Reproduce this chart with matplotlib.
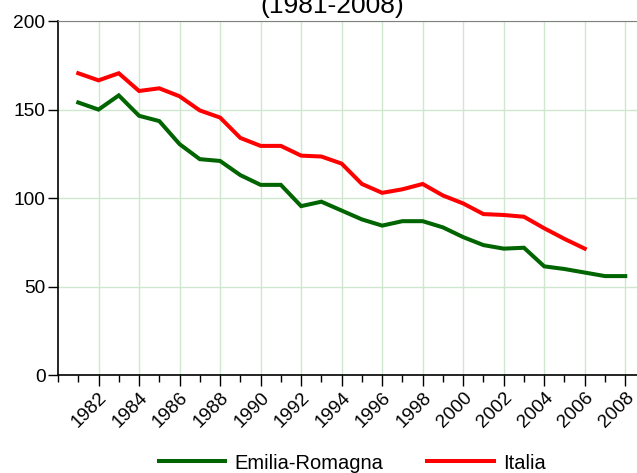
# tassi 1981-2008, Emilia-Romagna vs Italia

import matplotlib
matplotlib.use("Agg")
import matplotlib.pyplot as plt
from matplotlib.ticker import MultipleLocator

plt.rcParams['font.family'] = ['Liberation Sans', 'DejaVu Sans']

years_er = list(range(1981, 2009))
emilia_romagna = [154, 150, 158, 146.5, 143.5, 130.5, 122, 121, 113, 107.5,
                  107.5, 95.5, 98, 93, 88, 84.5, 87, 87, 83.5, 78,
                  73.5, 71.5, 72, 61.5, 60, 58, 56, 56]

years_it = list(range(1981, 2007))
italia = [170.5, 166.5, 170.5, 160.5, 162, 157.5, 149.5, 145.5, 134, 129.5,
          129.5, 124, 123.5, 119.5, 108, 103, 105, 108, 101.5, 97,
          91, 90.5, 89.5, 83, 77, 71.5]

tick_years = list(range(1982, 2009, 2))
title = "(1981-2008)"

fig = plt.figure(figsize=(6.37, 4.73), dpi=100)
ax = fig.add_axes([58 / 637, 97.7 / 473, 1 - 58 / 637, 354.3 / 473])

ax.plot(years_er, emilia_romagna, color="#006400", lw=2.9, label="Emilia-Romagna",
        solid_joinstyle="miter")
ax.plot(years_it, italia, color="#ff0000", lw=2.9, label="Italia",
        solid_joinstyle="miter")

ax.set_xlim(1980, 2008.58)
ax.set_ylim(0, 200)
ax.set_xticks(tick_years)
ax.set_xticklabels([str(y) for y in tick_years], rotation=45, ha="right",
                   rotation_mode="anchor", fontsize=13.6)
ax.xaxis.set_minor_locator(MultipleLocator(1))
ax.set_yticks([0, 50, 100, 150, 200])
ax.tick_params(axis="y", labelsize=13.8, length=7, width=1, pad=2)
ax.tick_params(axis="x", which="major", length=8, width=1, pad=2)
ax.tick_params(axis="x", which="minor", length=5, width=1)

ax.grid(True, color="#cfe6cf", lw=1)
ax.set_axisbelow(True)
ax.spines["right"].set_visible(False)
ax.spines["top"].set_color("#808080")
ax.spines["left"].set_linewidth(1.2)
ax.spines["bottom"].set_linewidth(1.2)

fig.text(332 / 637, 1 - 13 / 473, title, ha="center", va="baseline", fontsize=19)

fig.legend(loc="center", bbox_to_anchor=(352 / 637, 10 / 473), ncol=2,
           frameon=False, fontsize=14.5, handlelength=3.3, handletextpad=0.45,
           columnspacing=2.2)

plt.savefig("out.png", dpi=100)
